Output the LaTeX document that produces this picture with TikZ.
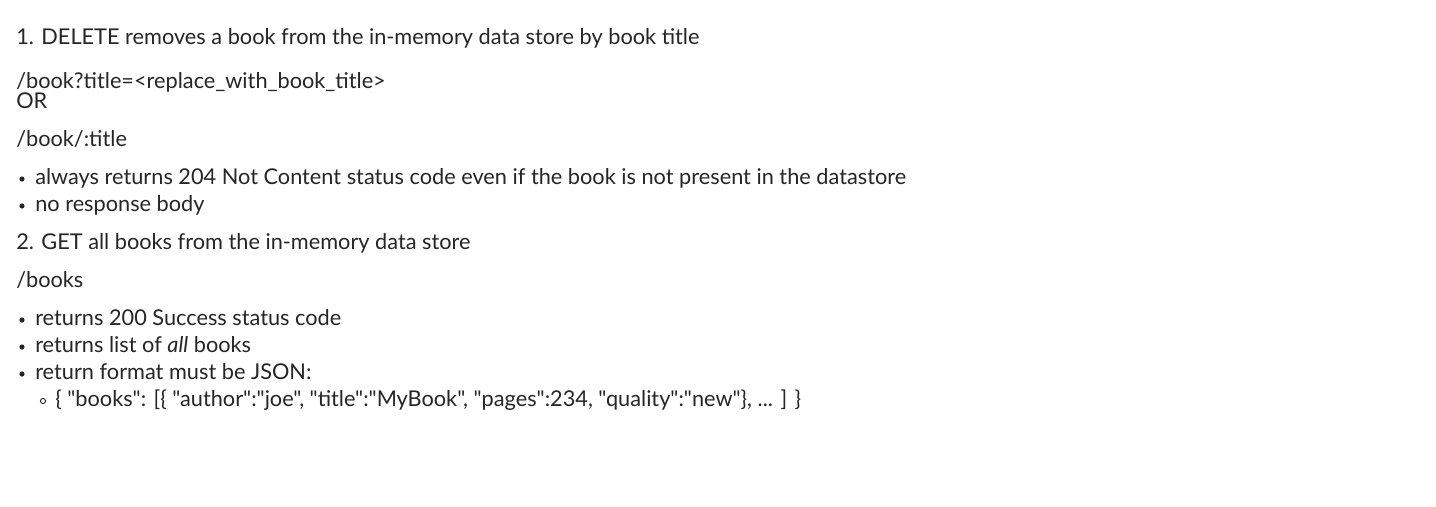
\documentclass[tikz,border=0pt]{standalone}
\usepackage{fontspec}
\setmainfont{Lato}[Ligatures=TeXOff]
\begin{document}
\begin{tikzpicture}[x=0.75pt,y=-0.75pt,
  txt/.style={anchor=base west,inner sep=0pt,font=\fontsize{16.3}{18}\selectfont,text=black!85}]
\useasboundingbox (0,0) rectangle (1436,507);
\fill[white] (0,0) rectangle (1436,507);
\node[txt] (l1) at (16,44) {1. DELETE removes a book from the in-memory data store by book title};
\node[txt] (l2) at (16,88) {/book?title=<replace\_with\_book\_title>};
\node[txt] (l3) at (16,108) {OR};
\node[txt] (l4) at (16,146) {/book/:title};
\fill[black!85] (22,179) circle (2.6);
\node[txt] (b1) at (35,184) {always returns 204 Not Content status code even if the book is not present in the datastore};
\fill[black!85] (22,206) circle (2.6);
\node[txt] (b2) at (35,211) {no response body};
\node[txt] (l5) at (16,249) {2. GET all books from the in-memory data store};
\node[txt] (l6) at (16,287) {/books};
\fill[black!85] (22,320) circle (2.6);
\node[txt] (b3) at (35,325) {returns 200 Success status code};
\fill[black!85] (22,347) circle (2.6);
\node[txt] (b4) at (35,352) {returns list of \textit{all} books};
\fill[black!85] (22,374) circle (2.6);
\node[txt] (b5) at (35,379) {return format must be JSON:};
\draw[black!85,line width=0.7pt] (43,401) circle (2.6);
\node[txt] (b6) at (55,406) {\{ "books": [\{ "author":"joe", "title":"MyBook", "pages":234, "quality":"new"\}, ... ] \}};
\end{tikzpicture}
\end{document}
